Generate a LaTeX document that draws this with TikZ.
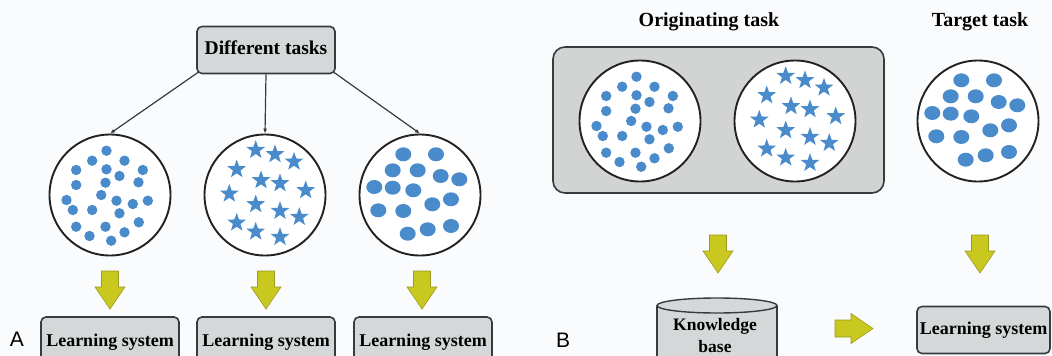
\documentclass[tikz,border=0pt]{standalone}
\usepackage{fontspec}
\setmainfont{Liberation Serif}
\newfontfamily\panelfont{Liberation Sans}
\usetikzlibrary{arrows.meta,positioning}
\definecolor{DotBlue}{HTML}{4A8CCB}
\definecolor{BoxGray}{HTML}{D5D8D9}
\definecolor{PanelGray}{HTML}{D1D4D3}
\definecolor{EdgeGray}{HTML}{363C3E}
\definecolor{RingBlack}{HTML}{222222}
\definecolor{ArrowYellow}{HTML}{C9C81F}
\definecolor{ArrowEdge}{HTML}{9C9A22}
\definecolor{PaperWhite}{HTML}{FAFBFD}

\newcommand{\blobcloud}[1]{%
  \foreach \dx/\dy in {-3.5/-44.3, -17.8/-34.3, 14.5/-34.3, -33.8/-25, -3.5/-25.7,
      32.8/-25, 9.5/-19, -4.5/-12.3, -33.8/-10, 28.5/-12.7, -8.8/0, -43.5/5,
      6.5/5.7, 37.8/5.7, 22.8/9, -37.2/15, -17.8/15, 9.5/18.3, -33.8/31.7,
      -4.5/31.7, 28.8/27.3, 14.5/37.3, -20.5/41, 1.2/45.7}
    \fill[DotBlue, shift={#1}] (\dx,\dy) circle (5.2pt);}
\newcommand{\starcloud}[1]{%
  \foreach \dx/\dy in {-9.3/-45, 10/-40.7, 29/-33.3, -28.3/-25.7, -4/-14.7,
      15/-11.7, 40.7/-4.7, -35.7/-1.3, -9.3/9.3, 15/16, 34.3/22, -28.3/27.7,
      -9.3/36.7, 15/42}
    \fill[DotBlue, shift={#1}, shift={(\dx,\dy)}] (270:9.8)
      \foreach \a in {0,72,...,288} {-- (306+\a:4) -- (342+\a:9.8)} -- cycle;}
\newcommand{\ovalcloud}[1]{%
  \foreach \dx/\dy in {-16.7/-40.7, 16/-40.7, -27.3/-24.7, -2.3/-24.7, 20.7/-19,
      39.3/-15.7, -45.7/-8, -27.3/-7.3, -6.7/-4.7, 12.3/9.3, 31/4.3, -41.7/15.3,
      -16.7/16, -12.3/38.7, 7.7/34.3, 31/31}
    \fill[DotBlue, shift={#1}] (\dx,\dy) ellipse (8pt and 7pt);}
\newcommand{\blockarrow}[2]{%
  \filldraw[blockarrow, shift={#1}, rotate=#2] (-8.5,0) -- (-8.5,16) -- (-15,16)
    -- (0,38) -- (15,16) -- (8.5,16) -- (8.5,0) -- cycle;}

\begin{document}
\begin{tikzpicture}[x=1pt, y=-1pt, >=Latex,
  taskbox/.style={draw=EdgeGray, line width=1.6pt, fill=BoxGray, rounded corners=5pt,
    text height=12pt, text depth=4pt, inner sep=0pt,
    font=\fontsize{18}{21}\selectfont\bfseries},
  taskset/.style={circle, draw=RingBlack, line width=1.9pt, fill=white,
    minimum size=121pt, inner sep=0pt},
  feed/.style={-{Latex[length=5pt, width=4pt]}, draw=EdgeGray, line width=1.2pt},
  heading/.style={anchor=base, font=\fontsize{20}{24}\selectfont\bfseries},
  paneltag/.style={anchor=base, font=\panelfont\fontsize{21}{24}\selectfont},
  blockarrow/.style={fill=ArrowYellow, draw=ArrowEdge, line width=0.6pt}]

  \path[use as bounding box, fill=PaperWhite] (0,0) rectangle (1052,356);

  \begin{scope}
    \node[taskbox, minimum width=138pt, minimum height=47pt,
      font=\fontsize{19.5}{22}\selectfont\bfseries] (diff) at (266,50) {Different tasks};
    \node[taskset] (setA) at (110,195) {};
    \node[taskset] (setB) at (265,195) {};
    \node[taskset] (setC) at (420,195) {};
    \draw[feed] ([shift={(2,-2)}]diff.south west) -- (setA.north);
    \draw[feed] (diff.south) -- (setB.north);
    \draw[feed] ([shift={(-2,-2)}]diff.south east) -- (setC.north);
    \blobcloud{(110,195)}
    \starcloud{(265,195)}
    \ovalcloud{(420,195)}
    \blockarrow{(110,271)}{0}
    \blockarrow{(266,271)}{0}
    \blockarrow{(422,271)}{0}
    \node[taskbox, minimum width=138pt, minimum height=50pt] (learnA) at (110,342) {Learning system};
    \node[taskbox, minimum width=138pt, minimum height=50pt] (learnB) at (266,342) {Learning system};
    \node[taskbox, minimum width=138pt, minimum height=50pt] (learnC) at (423,342) {Learning system};
    \node[paneltag] (tagA) at (17,346) {A};
  \end{scope}

  \begin{scope}
    \node[draw=EdgeGray, line width=1.6pt, fill=PanelGray, rounded corners=12pt,
      minimum width=331pt, minimum height=146pt] (pool) at (718.5,120) {};
    \node[heading] (origin) at (709,27) {Originating task};
    \node[heading] (target) at (980,27) {Target task};
    \node[taskset] (srcA) at (640,121) {};
    \node[taskset] (srcB) at (795,121) {};
    \node[taskset] (goal) at (978,121) {};
    \blobcloud{(640,121)}
    \starcloud{(795,121)}
    \ovalcloud{(978,121)}
    \blockarrow{(718,235)}{0}
    \blockarrow{(980,235)}{0}
    \fill[BoxGray] (657,305.5) rectangle (777,370);
    \draw[EdgeGray, line width=1.4pt] (657,305.5) -- (657,370) (777,305.5) -- (777,370);
    \filldraw[fill=BoxGray, draw=EdgeGray, line width=1.4pt] (717,305.5) ellipse (60pt and 7.5pt);
    \node[align=center, font=\fontsize{17.5}{22}\selectfont\bfseries] (kbase) at (715,336) {Knowledge\\base};
    \blockarrow{(835,328.5)}{90}
    \node[taskbox, minimum width=133pt, minimum height=47pt] (learnT) at (983.5,330) {Learning system};
    \node[paneltag] (tagB) at (563,347) {B};
  \end{scope}
\end{tikzpicture}
\end{document}
